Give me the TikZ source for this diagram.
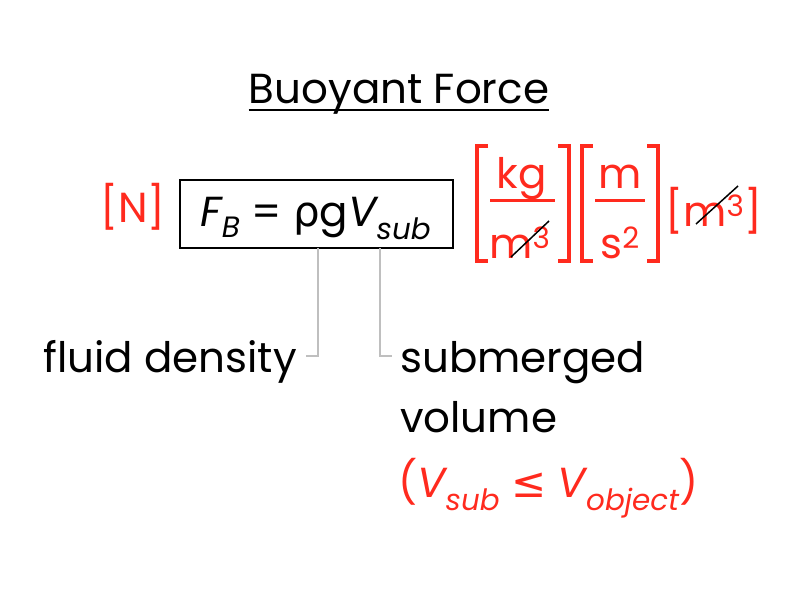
\documentclass[tikz,border=0pt]{standalone}
\usepackage{fontspec}
\setmainfont{Poppins}
\newfontfamily\symf{DejaVu Sans}
\definecolor{rd}{HTML}{FF2A1E}
\begin{document}
\begin{tikzpicture}[x=1pt,y=-1pt,
  txt/.style={inner sep=0pt,font=\fontsize{42}{48}\selectfont},
  red/.style={txt,text=rd},
  brk/.style={draw=rd,line width=4.5pt},
  lead/.style={draw=black!25,line width=1.5pt},
  strike/.style={draw=black,line width=1.5pt}]
\useasboundingbox (0,0) rectangle (800,600);
\node[txt,anchor=base] (title) at (399,103) {Buoyant Force};
\draw[line width=2pt] (title.south west |- 0,110) -- (title.south east |- 0,110);
\node[red,anchor=base] (N) at (133,222) {[N]};
\node[draw,line width=1.5pt,minimum width=273pt,minimum height=68pt,inner sep=0pt] (box) at (316.5,214) {};
\node[txt,anchor=base] (eq) at (316,226) {\textit{F\textsubscript{B}} = {\symf ρ}g\textit{V\textsubscript{sub}}};
% units
\draw[brk] (488,146) -- (477,146) -- (477,261) -- (488,261);
\draw[brk] (558,146) -- (569,146) -- (569,261) -- (558,261);
\draw[rd,line width=3pt] (490,200) -- (555,200);
\node[red,anchor=base] (kg) at (522,188) {kg};
\node[red,anchor=base] (m3a) at (520,258) {m\textsuperscript{3}};
\draw[strike] (511,257) -- (549,221);
\draw[brk] (593,146) -- (582,146) -- (582,261) -- (593,261);
\draw[brk] (647,146) -- (658,146) -- (658,261) -- (647,261);
\draw[rd,line width=3pt] (595,200) -- (645,200);
\node[red,anchor=base] (m) at (620,188) {m};
\node[red,anchor=base] (s2) at (620,258) {s\textsuperscript{2}};
\node[red,anchor=base] (m3b) at (714,226) {[m\textsuperscript{3}]};
\draw[strike] (696,224) -- (738,186);
% labels
\node[txt,anchor=base east] (fd) at (297,372) {fluid density};
\node[txt,anchor=base west] (sv) at (400,372) {submerged};
\node[txt,anchor=base west] (vol) at (400,432) {volume};
\node[red,anchor=base west] (cond) at (398,497) {(\textit{V\textsubscript{sub}} {\symf ≤} \textit{V\textsubscript{object}})};
\coordinate (a1) at (318,248);
\coordinate (a2) at (380,248);
\draw[lead] (a1) -- (318,356) -- (306,356);
\draw[lead] (a2) -- (380,356) -- (392,356);
\end{tikzpicture}
\end{document}
